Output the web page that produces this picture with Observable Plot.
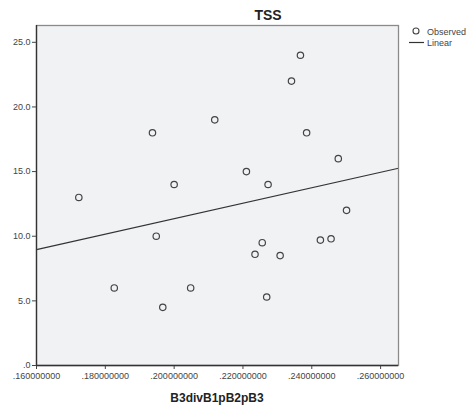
<!DOCTYPE html>
<html><head><meta charset="utf-8">
<script src="https://cdn.jsdelivr.net/npm/d3@7"></script>
<script src="https://cdn.jsdelivr.net/npm/@observablehq/plot@0.6"></script>
<style>
body{margin:0;background:#fff;font-family:"Liberation Sans",Arial,sans-serif}
#wrap{position:relative;width:470px;height:407px}
#overlay{position:absolute;left:0;top:0;pointer-events:none}
</style></head>
<body><div id="wrap"></div>
<script>
const title = "TSS";
const xLabel = "B3divB1pB2pB3";
const legendLabels = ["Observed", "Linear"];
const xValues = [0.2367,0.2341,0.2118,0.1937,0.2385,0.2477,0.1723,0.2000,0.2210,0.2273,0.2501,0.1948,0.2256,0.2235,0.2308,0.2425,0.2456,0.1826,0.1967,0.2048,0.2269];
const yValues = [24.0,22.0,19.0,18.0,18.0,16.0,13.0,14.0,15.0,14.0,12.0,10.0,9.5,8.6,8.5,9.7,9.8,6.0,4.5,6.0,5.3];
const xTicks = [0.16,0.18,0.20,0.22,0.24,0.26];
const yTicks = [0,5,10,15,20,25];
const xDomain = [0.16,0.2652];
const yDomain = [0,26.3];

const data = xValues.map((x,i)=>({x, y:yValues[i]}));
const mx = d3.mean(xValues), my = d3.mean(yValues);
const slope = d3.sum(data,d=>(d.x-mx)*(d.y-my)) / d3.sum(data,d=>(d.x-mx)**2);
const fit = xDomain.map(x=>({x, y: my + slope*(x-mx)}));

const chart = Plot.plot({
  width:470, height:407,
  marginLeft:36, marginRight:72, marginTop:25, marginBottom:42,
  style:{fontFamily:"Liberation Sans, Arial, sans-serif", fontSize:"9px", color:"#444", background:"white"},
  x:{domain:xDomain, ticks:xTicks, tickFormat:d=>d.toFixed(9).replace(/^0/,""), label:null, tickSize:4, tickPadding:3},
  y:{domain:yDomain, ticks:yTicks, tickFormat:d=>d===0?".0":d.toFixed(1), label:null, tickSize:4, tickPadding:2},
  marks:[
    Plot.frame({fill:"#f1f2f4"}),
    Plot.line(fit,{x:"x",y:"y",stroke:"#333",strokeWidth:1.2}),
    Plot.dot(data,{x:"x",y:"y",r:3.2,stroke:"#444",strokeWidth:1.2,fill:"none"}),
    Plot.frame({stroke:"#8a8a8a",strokeWidth:1.3}),
    Plot.ruleY([yDomain[0]],{stroke:"#333",strokeWidth:1.3}),
    Plot.ruleX([xDomain[0]],{stroke:"#333",strokeWidth:1.3})
  ]
});
const wrap = document.getElementById("wrap");
wrap.appendChild(chart);

const ov = d3.select(wrap).append("svg").attr("id","overlay").attr("width",470).attr("height",407)
  .style("font-family","Liberation Sans, Arial, sans-serif");
ov.append("text").attr("x",268).attr("y",20).attr("text-anchor","middle")
  .attr("font-weight","bold").attr("font-size",14).attr("fill","#222").text(title);
ov.append("text").attr("x",217).attr("y",401.5).attr("text-anchor","middle")
  .attr("font-weight","bold").attr("font-size",12).attr("fill","#222").text(xLabel);
ov.append("circle").attr("cx",416).attr("cy",31).attr("r",3).attr("fill","none").attr("stroke","#444").attr("stroke-width",1.1);
ov.append("text").attr("x",427).attr("y",35).attr("font-size",9).attr("fill","#444").text(legendLabels[0]);
ov.append("line").attr("x1",409).attr("x2",424).attr("y1",42.5).attr("y2",42.5).attr("stroke","#333").attr("stroke-width",1.2);
ov.append("text").attr("x",427).attr("y",45.5).attr("font-size",9).attr("fill","#444").text(legendLabels[1]);
</script>
</body></html>
